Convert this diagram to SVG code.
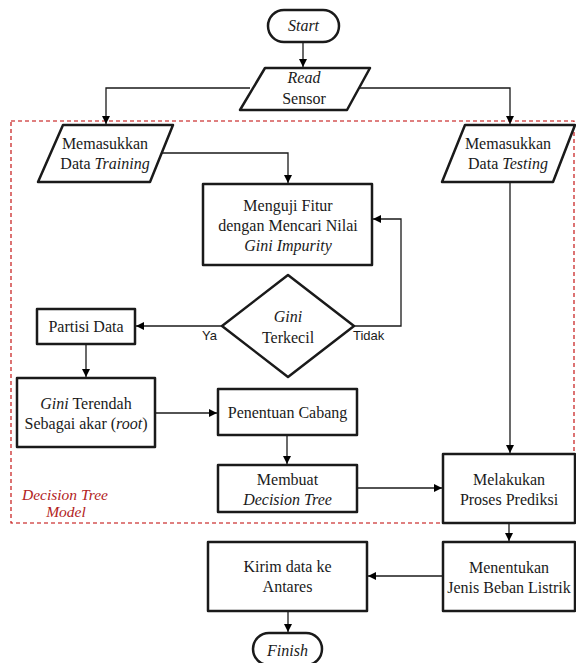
<svg xmlns="http://www.w3.org/2000/svg" width="576" height="663" viewBox="0 0 576 663">
<defs>
<marker id="arr" viewBox="0 0 10 10" refX="10" refY="5" markerWidth="8" markerHeight="8" markerUnits="userSpaceOnUse" orient="auto">
<path d="M0,0 L10,5 L0,10 z" fill="#000"/>
</marker>
<style>
.node{fill:#fff;stroke:#1a1a1a;stroke-width:2.5;stroke-linejoin:round}
.con{fill:none;stroke:#1a1a1a;stroke-width:1.3}
.t{font-family:"Liberation Serif","Times New Roman",serif;font-size:16px;fill:#1a1a1a;text-anchor:middle}
.i{font-style:italic}
.s{font-family:"Liberation Sans",Arial,sans-serif;font-size:13px;fill:#1a1a1a}
.dash{fill:none;stroke:#c00000;stroke-width:1.1;stroke-dasharray:4 3}
.lbl{font-family:"Liberation Serif","Times New Roman",serif;font-style:italic;font-size:15.5px;fill:#b22222;text-anchor:middle}
</style>
</defs>
<rect fill="#fff" x="0" y="0" width="576" height="663"/>
<g id="region">
<rect class="dash" x="11" y="121" width="563" height="402"/>
<text class="lbl" x="65" y="500">Decision Tree</text>
<text class="lbl" x="66" y="517">Model</text>
</g>
<g id="connectors">
<path class="con" d="M303,42 V67" marker-end="url(#arr)"/>
<path class="con" d="M250,88 H106 V124" marker-end="url(#arr)"/>
<path class="con" d="M360,88 H510 V124" marker-end="url(#arr)"/>
<path class="con" d="M162,153 H288 V183" marker-end="url(#arr)"/>
<path class="con" d="M354,326 H401 V219 H373" marker-end="url(#arr)"/>
<path class="con" d="M222,326 H136" marker-end="url(#arr)"/>
<path class="con" d="M86,344 V377" marker-end="url(#arr)"/>
<path class="con" d="M155,413 H217" marker-end="url(#arr)"/>
<path class="con" d="M287,435 V464" marker-end="url(#arr)"/>
<path class="con" d="M357,488 H442" marker-end="url(#arr)"/>
<path class="con" d="M510,182 V453" marker-end="url(#arr)"/>
<path class="con" d="M509,523 V541" marker-end="url(#arr)"/>
<path class="con" d="M443,576 H368" marker-end="url(#arr)"/>
<path class="con" d="M288,611 V632" marker-end="url(#arr)"/>
<text class="s" x="202" y="340">Ya</text>
<text class="s" x="353" y="340">Tidak</text>
</g>
<g id="start">
<rect class="node" x="268" y="10" width="71" height="32" rx="16"/>
<text class="t i" x="303.5" y="31">Start</text>
</g>
<g id="read-sensor">
<path class="node" d="M265,68 H370 L347,110 H240 Z"/>
<text class="t i" x="304" y="83">Read</text>
<text class="t" x="304" y="104">Sensor</text>
</g>
<g id="data-training">
<path class="node" d="M63,125 H173 L150,182 H38 Z"/>
<text class="t" x="105" y="149">Memasukkan</text>
<text class="t" x="105" y="169">Data <tspan class="i">Training</tspan></text>
</g>
<g id="data-testing">
<path class="node" d="M465,125 H575 L553,182 H442 Z"/>
<text class="t" x="508" y="149">Memasukkan</text>
<text class="t" x="508" y="169">Data <tspan class="i">Testing</tspan></text>
</g>
<g id="menguji">
<rect class="node" x="203" y="184" width="169" height="81"/>
<text class="t" x="288" y="211">Menguji Fitur</text>
<text class="t" x="288" y="231">dengan Mencari Nilai</text>
<text class="t i" x="288" y="251">Gini Impurity</text>
</g>
<g id="gini-terkecil">
<path class="node" d="M288,275 L354,326 L288,377 L222,326 Z"/>
<text class="t i" x="288" y="322">Gini</text>
<text class="t" x="288" y="343">Terkecil</text>
</g>
<g id="partisi">
<rect class="node" x="37" y="309" width="98" height="35"/>
<text class="t" x="86" y="332">Partisi Data</text>
</g>
<g id="gini-terendah">
<rect class="node" x="17" y="378" width="138" height="69"/>
<text class="t" x="86" y="409"><tspan class="i">Gini</tspan> Terendah</text>
<text class="t" x="86" y="429">Sebagai akar (<tspan class="i">root</tspan>)</text>
</g>
<g id="penentuan">
<rect class="node" x="218" y="389" width="139" height="46"/>
<text class="t" x="287.5" y="418">Penentuan Cabang</text>
</g>
<g id="membuat">
<rect class="node" x="218" y="465" width="139" height="47"/>
<text class="t" x="287.5" y="485">Membuat</text>
<text class="t i" x="287.5" y="505">Decision Tree</text>
</g>
<g id="melakukan">
<rect class="node" x="443" y="454" width="132" height="69"/>
<text class="t" x="509" y="485">Melakukan</text>
<text class="t" x="509" y="505">Proses Prediksi</text>
</g>
<g id="menentukan">
<rect class="node" x="443" y="542" width="132" height="69"/>
<text class="t" x="509" y="573">Menentukan</text>
<text class="t" x="509" y="593">Jenis Beban Listrik</text>
</g>
<g id="kirim">
<rect class="node" x="208" y="542" width="159" height="69"/>
<text class="t" x="287.5" y="572">Kirim data ke</text>
<text class="t" x="287.5" y="592">Antares</text>
</g>
<g id="finish">
<rect class="node" x="253" y="633" width="69" height="32" rx="16"/>
<text class="t i" x="287.5" y="656">Finish</text>
</g>
</svg>
